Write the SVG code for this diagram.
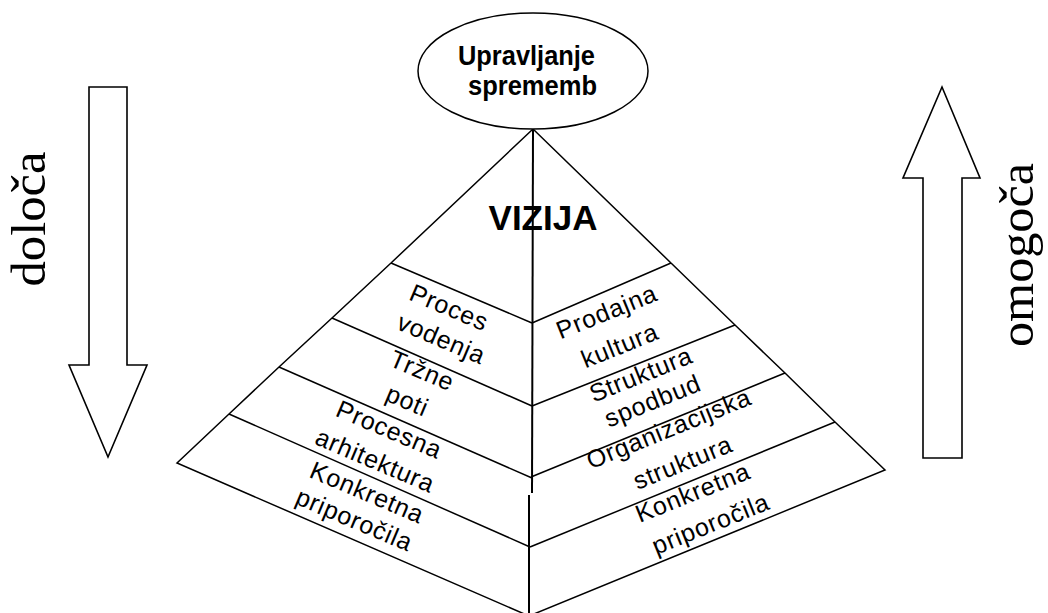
<svg xmlns="http://www.w3.org/2000/svg" width="1048" height="613" viewBox="0 0 1048 613">
<style>
.ln{stroke:#000;stroke-width:1.5;fill:none}
.ctr{stroke:#000;stroke-width:2;fill:none}
.arr{stroke:#000;stroke-width:1.6;fill:#fff}
.lbl{font-family:"Liberation Sans",Arial,sans-serif;font-size:25px;letter-spacing:0.8px;fill:#000;text-anchor:middle}
.bold{font-family:"Liberation Sans",Arial,sans-serif;font-weight:bold;fill:#000;text-anchor:middle}
.serif{font-family:"Liberation Serif","Times New Roman",serif;font-size:48px;fill:#000;text-anchor:middle}
</style>
<rect width="1048" height="613" fill="#fff"/>
<g id="connectors">
<polyline class="ln" points="391,263 533,129 671,263"/>
<polyline class="ln" points="391,263 332,318 279,367 229,414 177,463 529,616 885,470 835,422 785,373 735,325 671,263"/>
<line class="ln" x1="391" y1="263" x2="532" y2="323"/>
<line class="ln" x1="332" y1="318" x2="532" y2="406"/>
<line class="ln" x1="279" y1="367" x2="532" y2="478"/>
<line class="ln" x1="229" y1="414" x2="530" y2="547"/>
<line class="ln" x1="532" y1="323" x2="671" y2="263"/>
<line class="ln" x1="532" y1="406" x2="735" y2="325"/>
<line class="ln" x1="531" y1="477" x2="785" y2="373"/>
<line class="ln" x1="530" y1="547" x2="835" y2="422"/>
<line class="ctr" x1="533" y1="129" x2="532" y2="493"/>
<line class="ctr" x1="529" y1="495" x2="529" y2="616"/>
</g>
<g id="change-management">
<ellipse cx="533" cy="71" rx="115" ry="58" fill="#fff" stroke="#000" stroke-width="1.5"/>
<text class="bold" font-size="28" x="526.5" y="65" textLength="137" lengthAdjust="spacingAndGlyphs">Upravljanje</text>
<text class="bold" font-size="28" x="532.5" y="95" textLength="129" lengthAdjust="spacingAndGlyphs">sprememb</text>
</g>
<g id="vision">
<text class="bold" font-size="35" x="543" y="230">VIZIJA</text>
</g>
<g id="left-labels">
<text class="lbl" transform="translate(449,308) rotate(23)" y="8">Proces</text>
<text class="lbl" transform="translate(440,342) rotate(23)" y="5">vodenja</text>
<text class="lbl" transform="translate(422,371) rotate(23)" y="8">Tržne</text>
<text class="lbl" transform="translate(406,404) rotate(23)" y="5">poti</text>
<text class="lbl" transform="translate(389,430) rotate(23)" y="8">Procesna</text>
<text class="lbl" transform="translate(375,461) rotate(23)" y="8">arhitektura</text>
<text class="lbl" transform="translate(367,493) rotate(23)" y="8">Konkretna</text>
<text class="lbl" transform="translate(353,523) rotate(23)" y="5">priporočila</text>
</g>
<g id="right-labels">
<text class="lbl" transform="translate(608,315) rotate(-22)" y="5">Prodajna</text>
<text class="lbl" transform="translate(620,346) rotate(-22)" y="8">kultura</text>
<text class="lbl" transform="translate(641,375) rotate(-22)" y="8">Struktura</text>
<text class="lbl" transform="translate(654,404) rotate(-22)" y="5">spodbud</text>
<text class="lbl" transform="translate(670,432) rotate(-22)" y="5">Organizacijska</text>
<text class="lbl" transform="translate(683,463) rotate(-22)" y="8">struktura</text>
<text class="lbl" transform="translate(693,493) rotate(-22)" y="8">Konkretna</text>
<text class="lbl" transform="translate(712,527) rotate(-22)" y="5">priporočila</text>
</g>
<g id="arrow-down">
<polygon class="arr" points="89,87 127,87 127,365 147,365 108,457 69,365 89,365"/>
<text class="serif" transform="translate(45,219) rotate(-90)" textLength="135" lengthAdjust="spacingAndGlyphs">določa</text>
</g>
<g id="arrow-up">
<polygon class="arr" points="923,458 962,458 962,178 980,178 942,87 903,178 923,178"/>
<text class="serif" transform="translate(1033,255) rotate(-90)" textLength="184" lengthAdjust="spacingAndGlyphs">omogoča</text>
</g>
</svg>
